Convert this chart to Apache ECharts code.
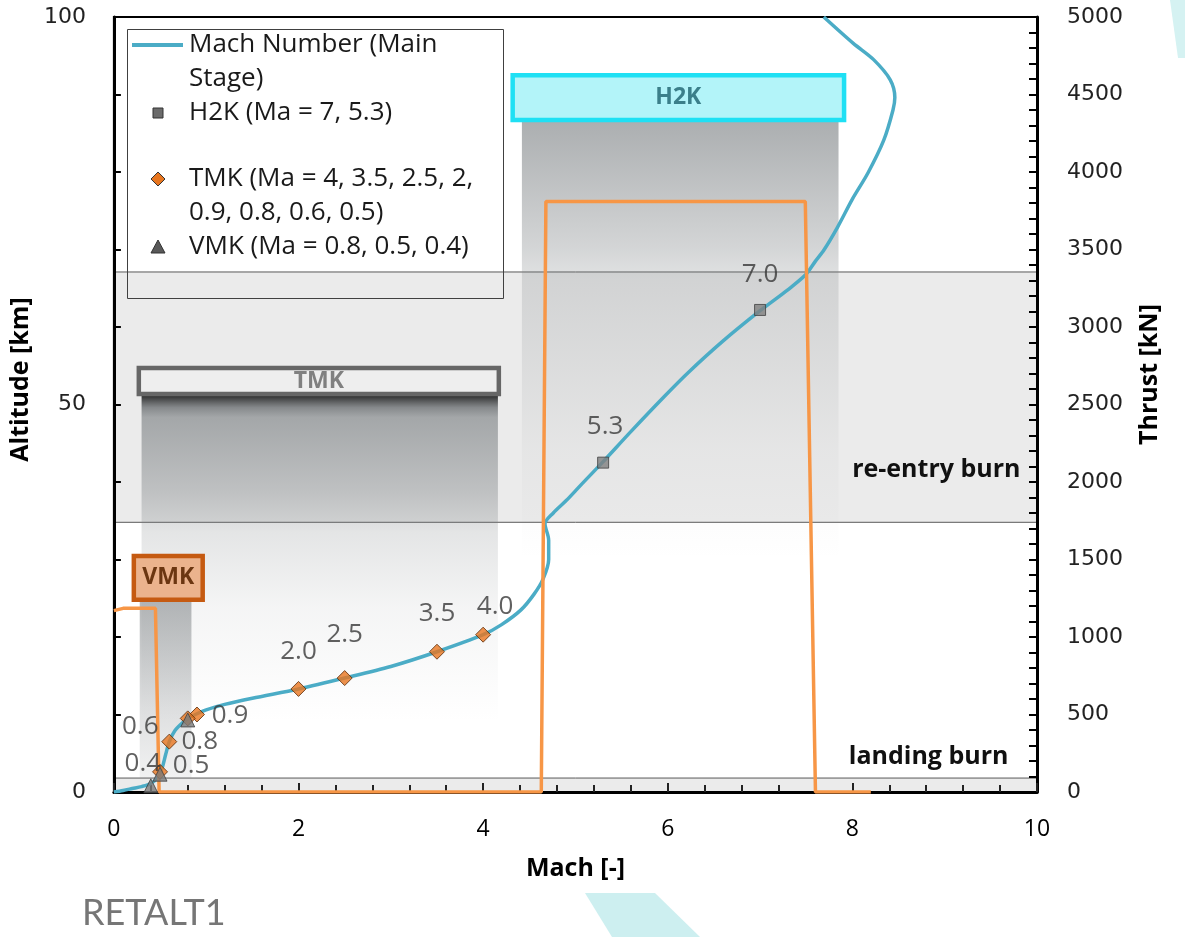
<!DOCTYPE html>
<html>
<head>
<meta charset="utf-8">
<script src="https://cdn.jsdelivr.net/npm/echarts@6/dist/echarts.min.js"></script>
<style>html,body{margin:0;padding:0;background:#fff;}#c{width:1185px;height:937px;}</style>
</head>
<body>
<div id="c"></div>
<script>
// ---------------- data ----------------
const xTicks = [0, 2, 4, 6, 8, 10];
const altTicks = [0, 50, 100];
const thrustTicks = [0, 500, 1000, 1500, 2000, 2500, 3000, 3500, 4000, 4500, 5000];

// Mach number (main stage) trajectory: [Mach, altitude km]
const machCurve = [
  [0,0],[0.1,0.2],[0.2,0.45],[0.3,0.7],[0.4,1.1],[0.47,1.8],[0.52,3.0],[0.56,4.8],[0.6,6.5],
  [0.66,7.9],[0.74,8.9],[0.82,9.6],[0.9,10.1],[1.0,10.6],[1.2,11.3],[1.5,12.1],[2.0,13.3],
  [2.5,14.7],[3.0,16.2],[3.5,18.1],[4.0,20.3],[4.2,21.6],[4.41,23.5],[4.55,25.5],[4.65,27.5],
  [4.71,30.0],[4.71,32.5],[4.67,34.6],[4.76,36.0],[4.9,37.6],[5.05,39.5],[5.29,42.5],[5.6,46.5],[5.96,51.0],
  [6.22,54.1],[6.6,58.2],[7.0,62.1],[7.3,64.8],[7.49,66.7],[7.6,68.5],[7.69,69.9],[7.84,72.9],
  [8.0,76.5],[8.17,79.9],[8.34,84.1],[8.44,88.0],[8.46,89.6],[8.41,91.9],[8.23,94.5],[8.01,96.6],[7.69,100]
];
// Thrust vs Mach: [Mach, kN]
const thrustCurve = [
  [0,1170],[0.1,1185],[0.45,1185],[0.49,0],[4.63,0],[4.68,3810],[7.49,3810],[7.6,0],[8.2,0]
];
// Wind tunnel test points
const h2kMach = [7.0, 5.3];
const h2kAlt  = [62.2, 42.5];
const h2kLabels = ['7.0', '5.3'];
const tmkMach = [4.0, 3.5, 2.5, 2.0, 0.9, 0.8, 0.6, 0.5];
const tmkAlt  = [20.3, 18.1, 14.7, 13.3, 10.0, 9.5, 6.5, 2.6];
const tmkLabels = ['4.0', '3.5', '2.5', '2.0', '0.9', '0.8', '0.6', '0.5'];
const vmkMach = [0.8, 0.5, 0.4];
const vmkAlt  = [9.3, 2.3, 0.8];
const vmkLabels = ['', '', '0.4'];

// burn phases (altitude km)
const reentryBand = [34.8, 67.1];
const landingBand = [0, 1.8];

// wind-tunnel boxes: [machMin, machMax, altMin, altMax]
const h2kBox = [4.32, 7.91, 86.7, 92.5];
const tmkBox = [0.27, 4.17, 51.35, 54.7];
const vmkBox = [0.216, 0.962, 24.8, 30.45];
// shaded ranges below boxes
const h2kShade = [4.42, 7.85, 30, 86.6];
const tmkShade = [0.30, 4.16, 9, 51.3];
const vmkShade = [0.28, 0.84, 1.8, 24.8];

// ---------------- styles ----------------
const labelOffsetsTMK = [[12,-28],[0,-38],[0,-43],[0,-37],[33,1],[12,23],[-29,-15],[31,-6]];
const labelOffsetsVMK = [[0,0],[0,0],[-8,-22]];
const labelOffsetsH2K = [[0,-35],[2,-36]];
const LBL = {fontFamily:'Open Sans', fontSize:26, color:'#383838'};
const TITLE = {fontFamily:'Open Sans', fontWeight:'bold', fontSize:25, color:'#000'};

function pts(xs, ys, labels, offs){
  return xs.map((x,i)=>({
    value:[x, ys[i]],
    label:{show: labels[i] !== '', formatter: labels[i], position:'inside', offset: offs[i], ...LBL}
  }));
}
function grad(stops){
  return {type:'linear', x:0, y:0, x2:0, y2:1, colorStops: stops.map(s=>({offset:s[0], color:s[1]}))};
}
const G = 'rgba(120,125,128,';
function shadeArea(r, stops){
  return [{coord:[r[0], r[3]], itemStyle:{color: grad(stops)}}, {coord:[r[1], r[2]]}];
}
function boxArea(r, text, fill, border, txtColor){
  return [{coord:[r[0], r[3]], itemStyle:{color: fill, borderColor: border, borderWidth: 4.5},
           label:{show:true, formatter:text, position:'inside', fontFamily:'Open Sans', fontWeight:'bold', fontSize:23, color: txtColor}},
          {coord:[r[1], r[2]]}];
}
const LF = '26px "Open Sans"';

const chart = echarts.init(document.getElementById('c'), null, {renderer:'canvas'});
const option = {
  backgroundColor:'#fff',
  animation:false,
  grid:{left:112, right:148, top:17, bottom:145, show:true, borderColor:'#000', borderWidth:2, z:8},
  xAxis:{
    type:'value', min:xTicks[0], max:xTicks[xTicks.length-1], interval:2, z:8,
    name:'Mach [-]', nameLocation:'middle', nameGap:64,
    nameTextStyle:TITLE,
    axisLine:{lineStyle:{color:'#000', width:3}},
    axisTick:{inside:true, length:9, lineStyle:{color:'#222', width:2}},
    minorTick:{show:true, splitNumber:5, length:7, lineStyle:{color:'#222', width:2}},
    splitLine:{show:false},
    axisLabel:{fontFamily:'Open Sans', fontSize:23, color:'#000', margin:26}
  },
  yAxis:[{
    type:'value', min:0, max:100, interval:10, z:8,
    name:'Altitude [km]', nameLocation:'middle', nameRotate:90, nameGap:62,
    nameTextStyle:Object.assign({padding:[0,0,0,50]}, TITLE),
    axisLine:{show:true, lineStyle:{color:'#000', width:3}},
    axisTick:{inside:true, length:7, lineStyle:{color:'#000', width:2}},
    splitLine:{show:false},
    axisLabel:{fontFamily:'DejaVu Sans', fontSize:22, color:'#222', margin:28,
      formatter: v => altTicks.indexOf(v) >= 0 ? String(v) : ''}
  },{
    type:'value', min:0, max:5000, interval:500, position:'right', z:8,
    name:'Thrust [kN]', nameLocation:'middle', nameRotate:90, nameGap:100,
    nameTextStyle:Object.assign({padding:[0,0,0,60]}, TITLE),
    axisLine:{show:true, lineStyle:{color:'#000', width:3}},
    axisTick:{inside:true, length:8, lineStyle:{color:'#000', width:2}},
    minorTick:{show:true, splitNumber:5, length:8, lineStyle:{color:'#000', width:2}},
    splitLine:{show:false},
    axisLabel:{fontFamily:'DejaVu Sans', fontSize:22, color:'#222', margin:30,
      formatter: v => thrustTicks.indexOf(v) >= 0 ? String(v) : ''}
  }],
  series:[
    { // bands and shading
      type:'line', data:[], z:1, silent:true, xAxisIndex:0, yAxisIndex:0,
      markArea:{silent:true, data:[
        [{yAxis:reentryBand[0], itemStyle:{color:'#ebebeb', borderColor:'#5a5a5a', borderWidth:1},
          label:{show:true, formatter:'re-entry burn', position:['100%','79%'], align:'right', verticalAlign:'middle', offset:[-17,0],
                 fontFamily:'Open Sans', fontWeight:'bold', fontSize:25, color:'#111'}},
         {yAxis:reentryBand[1]}],
        [{yAxis:landingBand[0], itemStyle:{color:'#ebebeb', borderColor:'#5a5a5a', borderWidth:1},
          label:{show:true, formatter:'landing burn', position:['100%','0%'], align:'right', verticalAlign:'bottom', offset:[-29,-8],
                 fontFamily:'Open Sans', fontWeight:'bold', fontSize:25, color:'#111'}},
         {yAxis:landingBand[1]}],
        shadeArea(tmkShade, [[0,'rgba(35,35,35,1)'],[0.04,'rgba(105,109,112,0.78)'],[0.07,G+'0.62)'],[0.3,G+'0.38)'],[0.42,G+'0.2)'],[0.65,G+'0.08)'],[1,G+'0)']]),
        shadeArea(vmkShade, [[0,G+'0.55)'],[0.6,G+'0.25)'],[1,G+'0.1)']]),
        shadeArea(h2kShade, [[0,G+'0.62)'],[0.29,G+'0.32)'],[0.36,G+'0.22)'],[0.75,G+'0.05)'],[1,G+'0)']])
      ]}
    },
    {
      name:'Mach Number (Main Stage)', type:'line', xAxisIndex:0, yAxisIndex:0, z:10,
      data:machCurve, smooth:0.3, showSymbol:false, silent:true,
      lineStyle:{color:'#4bacc6', width:3.5}
    },
    {
      name:'Thrust', type:'line', xAxisIndex:0, yAxisIndex:1, z:11,
      data:thrustCurve, showSymbol:false, silent:true,
      lineStyle:{color:'#f79646', width:3.5}
    },
    {
      name:'TMK (Ma = 4, 3.5, 2.5, 2, 0.9, 0.8, 0.6, 0.5)', type:'scatter', z:12,
      symbol:'diamond', symbolSize:15,
      itemStyle:{color:'#e8761f', borderColor:'#5a2a08', borderWidth:1},
      data:pts(tmkMach, tmkAlt, tmkLabels, labelOffsetsTMK)
    },
    {
      name:'VMK (Ma = 0.8, 0.5, 0.4)', type:'scatter', z:13,
      symbol:'triangle', symbolSize:14,
      itemStyle:{color:'#7a7a7a', borderColor:'#404040', borderWidth:1},
      data:pts(vmkMach, vmkAlt, vmkLabels, labelOffsetsVMK)
    },
    {
      name:'H2K (Ma = 7, 5.3)', type:'scatter', z:13,
      symbol:'rect', symbolSize:11,
      itemStyle:{color:'#808080', borderColor:'#404040', borderWidth:1},
      data:pts(h2kMach, h2kAlt, h2kLabels, labelOffsetsH2K)
    },
    { // wind tunnel boxes
      type:'line', data:[], z:14, silent:true, xAxisIndex:0, yAxisIndex:0,
      markArea:{silent:true, data:[
        boxArea(h2kBox, 'H2K', '#b3f4f9', '#1fe0f4', '#3b7f8a'),
        boxArea(tmkBox, 'TMK', '#eeeeee', '#666666', '#808080'),
        boxArea(vmkBox, 'VMK', '#ebb38d', '#c55a11', '#6b3611')
      ]}
    }
  ],
  graphic:[
    {type:'polygon', z:-10, shape:{points:[[585,893],[655,893],[700,937],[612,937]]}, style:{fill:'#cdeff0'}},
    {type:'polygon', z:-10, shape:{points:[[1170,0],[1185,0],[1185,58],[1178,58]]}, style:{fill:'#d5f2f2'}},
    {type:'text', left:82, top:895, style:{text:'RETALT1', font:'36px Lato', fill:'#767676'}},
    // legend
    {type:'polyline', z:20, shape:{points:[[127.5,29.5],[503.5,29.5],[503.5,298.5],[127.5,298.5],[127.5,29.5]]},
      style:{fill:null, stroke:'#404040', lineWidth:1}},
    {type:'line', z:20, shape:{x1:132,y1:45,x2:183,y2:45}, style:{stroke:'#4bacc6', lineWidth:4}},
    {type:'text', z:20, x:189, y:45, style:{text:'Mach Number (Main', font:LF, fill:'#1a1a1a', verticalAlign:'middle'}},
    {type:'text', z:20, x:189, y:79, style:{text:'Stage)', font:LF, fill:'#1a1a1a', verticalAlign:'middle'}},
    {type:'rect', z:20, shape:{x:153,y:108,width:10,height:10}, style:{fill:'#6b6b6b', stroke:'#333', lineWidth:1}},
    {type:'text', z:20, x:189, y:113, style:{text:'H2K (Ma = 7, 5.3)', font:LF, fill:'#1a1a1a', verticalAlign:'middle'}},
    {type:'polygon', z:20, shape:{points:[[158,172],[165,179],[158,186],[151,179]]}, style:{fill:'#e8761f', stroke:'#333', lineWidth:1}},
    {type:'text', z:20, x:189, y:179, style:{text:'TMK (Ma = 4, 3.5, 2.5, 2,', font:LF, fill:'#1a1a1a', verticalAlign:'middle'}},
    {type:'text', z:20, x:189, y:213, style:{text:'0.9, 0.8, 0.6, 0.5)', font:LF, fill:'#1a1a1a', verticalAlign:'middle'}},
    {type:'polygon', z:20, shape:{points:[[158,240],[165,253],[151,253]]}, style:{fill:'#595959', stroke:'#333', lineWidth:1}},
    {type:'text', z:20, x:189, y:247, style:{text:'VMK (Ma = 0.8, 0.5, 0.4)', font:LF, fill:'#1a1a1a', verticalAlign:'middle'}}
  ]
};
chart.setOption(option);
</script>
</body>
</html>
